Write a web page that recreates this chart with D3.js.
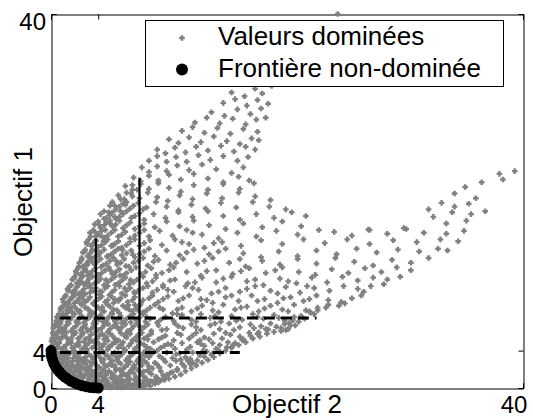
<!DOCTYPE html>
<html>
<head>
<meta charset="utf-8">
<script src="https://cdn.jsdelivr.net/npm/d3@7"></script>
<style>
  html, body { margin: 0; padding: 0; background: #fff; }
  svg { display: block; }
  text { font-family: "Liberation Sans", Arial, sans-serif; fill: #000; }
</style>
</head>
<body>
<div id="chart"></div>
<script>
// Objective space: dominated values and the non-dominated front
const xTicks = [0, 4, 40];
const yTicks = [0, 4, 40];
const xLabel = "Objectif 2";
const yLabel = "Objectif 1";
const legendLabels = ["Valeurs dominées", "Frontière non-dominée"];

// non-dominated front [objectif 2, objectif 1]
const frontier = [
  [0.00,4.00],[0.02,3.65],[0.06,3.30],[0.14,2.97],[0.24,2.63],[0.38,2.31],[0.54,2.00],
  [0.72,1.71],[0.94,1.43],[1.17,1.17],[1.43,0.94],[1.71,0.72],[2.00,0.54],[2.31,0.38],
  [2.63,0.24],[2.97,0.14],[3.30,0.06],[3.65,0.02],[4.00,0.00]
];

// cut levels: [level, extent]
const verticalCuts = [[3.8, 16], [7.5, 22.5]];
const horizontalCuts = [[3.8, 16], [7.5, 22.5]];
const cutStart = 0.75;

// dominated values [objectif 2, objectif 1]
const dominated = [
  [4.3,0.2],[4.8,0.5],[5.2,0.1],[5.6,0.7],[6.1,0.3],[6.4,0.8],[6.9,0.2],[7.3,0.6],[7.7,0.1],[8.2,0.4],[8.6,0.7],[3.6,0.8],[3.2,0.9],[4.1,0.7],[4.6,0.9],[5.0,0.3],[5.9,0.5],[6.6,0.5],[7.1,0.9],[7.9,0.8],[8.9,0.9],[9.3,0.8],[5.4,0.9],[4.5,0.1],[6.3,0.1],[7.5,0.3],[8.4,0.2],
  [1.6,1.8],[2.0,1.3],[2.4,1.7],[2.7,1.1],[3.1,1.5],[3.4,1.9],[3.8,1.2],[4.2,1.6],[4.5,1.1],[4.9,1.8],[5.3,1.4],[5.7,1.0],[6.0,1.7],[6.4,1.3],[6.8,1.9],[7.2,1.2],[7.6,1.6],[8.0,1.1],[8.5,1.5],[8.9,1.2],[9.3,1.8],[9.8,1.4],[10.3,1.7],[10.7,1.9],[2.2,1.95],[3.6,1.4],[5.1,1.1],[6.6,1.6],[8.2,1.9],[9.6,1.1],
  [0.8,2.6],[1.1,2.2],[1.4,2.8],[1.8,2.4],[2.2,2.9],[2.5,2.1],[2.9,2.6],[3.3,2.3],[3.7,2.8],[4.1,2.2],[4.4,2.7],[4.8,2.4],[5.2,2.9],[5.5,2.1],[5.9,2.6],[6.3,2.3],[6.7,2.8],[7.1,2.2],[7.5,2.6],[7.9,2.9],[8.3,2.3],[8.8,2.7],[9.2,2.2],[9.7,2.8],[10.1,2.4],[10.6,2.9],[11.1,2.6],[11.6,2.9],[12.0,2.7],[1.6,2.05],[3.0,2.95],[6.1,2.05],[9.0,2.5],
  [0.3,3.5],[0.6,3.1],[0.9,3.8],[1.2,3.3],[1.6,3.7],[1.9,3.2],[2.3,3.6],[2.7,3.1],[3.0,3.9],[3.4,3.4],[3.8,3.8],[4.2,3.2],[4.6,3.6],[5.0,3.1],[5.4,3.8],[5.8,3.4],[6.2,3.9],[6.5,3.2],[6.9,3.6],[7.4,3.1],[7.8,3.7],[8.3,3.3],[8.7,3.9],[9.2,3.4],[9.8,3.8],[10.3,3.2],[10.9,3.7],[11.4,3.3],[12.0,3.8],[12.6,3.5],[13.2,3.9],[13.7,3.7],[2.0,3.95],[5.6,3.05],[8.0,3.5],[11.0,3.05],
  [0.1,4.6],[0.4,4.2],[0.7,4.8],[1.1,4.4],[1.5,4.9],[1.8,4.3],[2.2,4.7],[2.6,4.1],[3.0,4.6],[3.5,4.3],[3.9,4.9],[4.3,4.4],[4.8,4.1],[5.2,4.7],[5.7,4.3],[6.1,4.9],[6.6,4.5],[7.1,4.2],[7.6,4.8],[8.1,4.4],[8.7,4.9],[9.3,4.3],[9.9,4.7],[10.5,4.2],[11.1,4.8],[11.8,4.4],[12.4,4.9],[13.0,4.5],[13.7,4.8],[14.3,4.6],[15.0,4.9],[15.6,4.8],[0.3,4.95],[2.8,4.95],[6.3,4.05],[9.6,4.5],
  [0.1,5.3],[0.4,5.8],[0.8,5.2],[1.1,5.6],[1.5,5.1],[1.9,5.7],[2.3,5.3],[2.7,5.9],[3.2,5.4],[3.6,5.0],[4.1,5.6],[4.5,5.2],[5.0,5.8],[5.4,5.3],[5.9,5.9],[6.4,5.4],[6.9,5.1],[7.4,5.7],[7.9,5.3],[8.5,5.8],[9.1,5.2],[9.7,5.6],[10.4,5.1],[11.0,5.7],[11.7,5.3],[12.3,5.9],[13.0,5.4],[13.8,5.8],[14.5,5.3],[15.2,5.7],[16.0,5.5],[16.8,5.9],[17.5,5.8],[1.3,5.95],[4.8,5.05],[8.2,5.55],[12.6,5.1],
  [0.2,6.4],[0.5,6.9],[0.9,6.3],[1.3,6.7],[1.7,6.1],[2.1,6.6],[2.5,6.2],[2.9,6.8],[3.4,6.3],[3.8,6.9],[4.3,6.4],[4.8,6.0],[5.3,6.6],[5.8,6.2],[6.3,6.8],[6.8,6.3],[7.3,6.9],[7.9,6.5],[8.5,6.1],[9.1,6.7],[9.8,6.3],[10.5,6.9],[11.2,6.4],[11.9,6.8],[12.7,6.2],[13.5,6.7],[14.3,6.3],[15.1,6.9],[16.0,6.5],[16.9,6.8],[17.8,6.6],[18.6,6.9],[19.5,6.4],[20.3,6.7],[19.9,6.2],[18.2,6.3],[0.7,6.05],[3.6,6.55],[6.0,6.95],
  [0.5,7.6],[0.8,7.1],[1.2,7.7],[1.6,7.3],[2.0,7.9],[2.4,7.4],[2.8,7.0],[3.3,7.6],[3.7,7.2],[4.2,7.8],[4.7,7.3],[5.2,7.9],[5.7,7.4],[6.2,7.0],[6.7,7.7],[7.2,7.3],[7.8,7.9],[8.4,7.4],[9.0,7.0],[9.7,7.6],[10.4,7.2],[11.1,7.8],[11.9,7.3],[12.7,7.9],[13.5,7.5],[14.4,7.1],[15.3,7.7],[16.2,7.3],[17.1,7.9],[18.0,7.4],[18.9,7.8],[19.8,7.2],[20.6,7.6],[21.5,7.4],[22.3,7.9],[20.2,6.95],[21.0,7.1],[1.0,7.95],[4.5,7.05],[8.1,7.6],
  [0.8,8.4],[1.2,8.9],[1.6,8.3],[2.0,8.7],[2.4,8.1],[2.9,8.6],[3.3,8.2],[3.8,8.8],[4.3,8.3],[4.8,8.9],[5.3,8.4],[5.8,8.0],[6.3,8.6],[6.9,8.2],[7.5,8.8],[8.1,8.3],[8.8,8.9],[9.5,8.4],[10.3,8.0],[11.1,8.6],[11.9,8.2],[12.8,8.8],[13.7,8.3],[14.6,8.9],[15.6,8.4],[16.6,8.7],[17.6,8.2],[18.6,8.8],[19.6,8.4],[20.6,8.9],[21.6,8.3],[22.6,8.6],[23.5,8.9],[24.4,8.8],[22.0,8.05],[1.4,8.05],[7.2,8.5],
  [1.0,9.5],[1.4,9.1],[1.8,9.7],[2.2,9.3],[2.7,9.9],[3.1,9.4],[3.6,9.0],[4.1,9.6],[4.6,9.2],[5.1,9.8],[5.7,9.3],[6.3,9.9],[6.9,9.4],[7.6,9.0],[8.3,9.6],[9.1,9.2],[9.9,9.8],[10.8,9.3],[11.7,9.9],[12.7,9.5],[13.7,9.1],[14.8,9.7],[15.9,9.3],[17.0,9.9],[18.1,9.5],[19.2,9.1],[20.3,9.7],[21.4,9.3],[22.5,9.9],[23.5,9.4],[24.6,9.2],[25.5,9.6],[26.3,9.9],[24.9,9.05],[2.5,9.05],[5.4,9.5],
  [1.4,10.6],[1.8,10.2],[2.2,10.8],[2.6,10.3],[3.1,10.9],[3.6,10.4],[4.1,10.0],[4.6,10.7],[5.2,10.3],[5.8,10.9],[6.4,10.4],[7.1,10.1],[7.8,10.7],[8.6,10.2],[9.5,10.8],[10.4,10.3],[11.4,10.9],[12.5,10.5],[13.6,10.1],[14.8,10.7],[16.0,10.3],[17.3,10.9],[18.6,10.4],[19.9,10.8],[21.1,10.2],[22.3,10.7],[23.6,10.4],[24.8,10.9],[26.0,10.6],[27.1,10.9],[26.5,10.3],[2.9,10.05],
  [1.8,11.6],[2.2,11.2],[2.6,11.8],[3.0,11.3],[3.5,11.9],[4.0,11.4],[4.5,11.0],[5.1,11.6],[5.7,11.2],[6.3,11.8],[7.0,11.3],[7.8,11.9],[8.6,11.4],[9.5,11.0],[10.5,11.6],[11.6,11.2],[12.8,11.8],[14.0,11.3],[15.3,11.9],[16.6,11.4],[18.0,11.0],[19.4,11.7],[20.8,11.2],[22.1,11.8],[23.4,11.3],[24.7,11.9],[26.0,11.5],[27.3,11.8],[28.5,11.6],[29.6,11.9],[28.2,11.1],[3.3,11.05],
  [2.1,12.5],[2.5,12.1],[2.9,12.7],[3.3,12.2],[3.8,12.8],[4.3,12.3],[4.9,12.9],[5.5,12.4],[6.1,12.0],[6.8,12.6],[7.6,12.2],[8.5,12.8],[9.4,12.3],[10.4,12.9],[11.5,12.4],[12.7,12.0],[14.0,12.6],[15.4,12.2],[16.8,12.8],[18.2,12.3],[19.6,12.9],[21.0,12.4],[22.4,12.1],[23.8,12.7],[25.2,12.3],[26.6,12.8],[28.0,12.4],[29.3,12.9],[30.5,12.6],[2.7,12.95],
  [2.4,13.4],[2.8,13.0],[3.2,13.6],[3.7,13.2],[4.2,13.8],[4.7,13.3],[5.3,13.9],[5.9,13.4],[6.6,13.0],[7.4,13.6],[8.2,13.1],[9.1,13.7],[10.1,13.2],[11.2,13.8],[12.4,13.3],[13.7,13.9],[15.1,13.4],[16.5,13.0],[17.9,13.6],[19.4,13.2],[20.9,13.8],[22.5,13.3],[24.1,13.9],[25.7,13.5],[27.3,13.1],[28.9,13.7],[30.5,13.4],[32.0,13.9],
  [2.7,14.5],[3.1,14.1],[3.5,14.7],[4.0,14.2],[4.5,14.8],[5.1,14.3],[5.7,14.9],[6.4,14.4],[7.1,14.0],[7.9,14.6],[8.8,14.1],[9.8,14.7],[10.9,14.2],[12.1,14.8],[13.4,14.3],[14.8,14.9],[16.3,14.4],[17.8,14.0],[19.3,14.6],[20.9,14.1],[22.5,14.7],[24.2,14.3],[25.9,14.9],[27.6,14.5],[29.4,14.8],[31.2,14.6],[32.8,14.9],[33.6,14.7],
  [3.0,15.6],[3.4,15.2],[3.8,15.8],[4.3,15.3],[4.8,15.9],[5.4,15.4],[6.0,15.0],[6.7,15.6],[7.5,15.2],[8.4,15.8],[9.4,15.3],[10.5,15.9],[11.7,15.4],[13.0,15.0],[14.5,15.6],[16.1,15.2],[17.8,15.8],[19.6,15.4],[21.4,15.9],[23.2,15.5],[25.1,15.9],[27.0,15.4],[29.0,15.8],[31.0,15.6],[33.0,15.9],[34.5,15.7],
  [3.3,16.6],[3.8,16.2],[4.3,16.8],[4.8,16.3],[5.4,16.9],[6.0,16.4],[6.7,16.0],[7.5,16.6],[8.3,16.2],[9.2,16.8],[10.3,16.3],[11.5,16.9],[12.8,16.4],[14.2,16.0],[15.8,16.6],[17.4,16.2],[19.1,16.8],[20.9,16.4],[22.7,16.9],[24.0,16.7],[25.5,16.3],[27.0,16.9],[28.5,16.5],[30.1,17.0],[31.6,16.6],[33.5,16.5],[35.0,16.8],
  [3.7,17.5],[4.2,17.1],[4.7,17.7],[5.2,17.3],[5.8,17.9],[6.4,17.4],[7.1,17.0],[7.9,17.6],[8.8,17.2],[9.8,17.8],[10.9,17.3],[12.1,17.9],[13.4,17.4],[14.8,17.0],[16.3,17.6],[17.9,17.2],[19.6,17.8],[21.2,17.3],[26.9,16.95],[29.9,17.1],[33.5,17.6],[35.2,17.9],
  [4.2,18.6],[4.7,18.2],[5.2,18.8],[5.8,18.3],[6.4,18.9],[7.1,18.4],[7.9,18.0],[8.7,18.6],[9.7,18.2],[10.8,18.8],[12.0,18.3],[13.3,18.9],[14.6,18.4],[16.0,18.0],[17.4,18.6],[18.9,18.2],[20.4,18.8],[21.6,18.4],[32.4,18.3],[34.0,18.8],[35.6,18.6],[36.8,18.9],
  [5.0,19.5],[5.5,19.1],[6.1,19.7],[6.7,19.2],[7.4,19.8],[8.1,19.3],[8.9,19.9],[9.8,19.4],[10.8,19.0],[11.9,19.6],[13.1,19.2],[14.4,19.8],[15.7,19.3],[17.1,19.9],[18.5,19.4],[19.9,19.1],[32.0,19.1],[33.1,19.8],[34.2,19.4],[35.4,19.7],
  [5.7,20.6],[6.2,20.2],[6.8,20.8],[7.5,20.3],[8.2,20.9],[9.0,20.4],[9.9,20.0],[10.9,20.6],[12.0,20.2],[13.2,20.8],[14.5,20.3],[15.9,20.9],[17.3,20.5],[18.6,20.1],[34.2,20.8],[36.0,20.3],
  [6.3,21.6],[6.9,21.2],[7.6,21.8],[8.3,21.3],[9.1,21.9],[10.0,21.4],[11.0,21.0],[12.1,21.7],[13.3,21.2],[14.6,21.8],[16.0,21.3],[17.2,21.9],[35.1,21.5],[36.5,22.0],[38.3,22.3],
  [7.0,22.5],[7.6,22.1],[8.3,22.7],[9.1,22.2],[10.0,22.8],[11.0,22.3],[12.1,22.9],[13.3,22.4],[14.6,22.0],[15.9,22.6],[16.8,22.2],[38.0,22.9],
  [7.7,23.6],[8.3,23.1],[9.0,23.7],[9.8,23.2],[10.7,23.8],[11.7,23.3],[12.8,23.9],[14.0,23.4],[15.3,23.0],[16.3,23.6],[39.3,23.2],
  [8.3,24.3],[9.0,24.8],[9.8,24.2],[10.6,24.7],[11.5,24.2],[12.5,24.9],[13.5,24.4],[14.6,24.8],[15.8,24.3],[16.7,24.7],
  [9.0,25.5],[9.7,25.1],[10.5,25.7],[11.4,25.2],[12.3,25.8],[13.3,25.4],[14.4,25.9],[15.5,25.3],[16.5,25.8],[17.3,25.5],
  [10.0,26.6],[10.8,26.2],[11.7,26.8],[12.7,26.3],[13.8,26.9],[14.9,26.4],[16.0,26.1],[17.0,26.7],[17.6,26.5],
  [11.1,27.5],[12.0,27.9],[13.0,27.3],[14.1,27.8],[15.2,27.2],[16.3,27.7],[17.5,27.4],
  [12.2,28.4],[13.2,28.9],[14.3,28.3],[15.4,28.8],[16.5,28.2],[17.4,28.7],[18.2,28.9],
  [13.6,29.5],[14.7,29.1],[15.8,29.8],[16.9,29.3],[17.8,29.9],
  [14.6,30.5],[15.6,30.9],[16.6,30.2],[17.5,30.8],[18.4,30.4],
  [15.3,31.6],[16.4,31.2],[17.3,32.0],[17.9,31.5],[18.7,32.3],
  [24.3,40.0],
  [4.0,0.4],[4.4,0.8],[4.9,0.2],[5.3,0.6],[5.8,0.2],[6.2,0.6],[6.7,0.9],[7.0,0.4],[7.4,0.8],[7.8,0.5],[8.1,0.9],[3.9,0.95],[5.5,0.4],[6.8,0.15],
  [1.9,1.6],[2.3,1.2],[2.6,1.5],[2.9,1.9],[3.3,1.2],[3.7,1.7],[4.0,1.3],[4.4,1.9],[4.7,1.4],[5.1,1.6],[5.5,1.9],[5.9,1.3],[6.2,1.5],[6.6,1.1],[7.0,1.6],[7.4,1.9],[7.8,1.3],[8.3,1.7],
  [1.0,2.9],[1.3,2.4],[1.7,2.7],[2.0,2.2],[2.4,2.5],[2.7,2.8],[3.1,2.2],[3.5,2.6],[3.9,2.4],[4.3,2.9],[4.6,2.3],[5.0,2.6],[5.4,2.4],[5.7,2.8],[6.5,2.5],[6.9,2.1],[7.3,2.9],[7.7,2.4],[8.1,2.7],[8.6,2.1],
  [0.4,3.8],[0.8,3.4],[1.0,3.1],[1.4,3.6],[1.8,3.9],[2.1,3.4],[2.5,3.8],[2.9,3.3],[3.2,3.6],[3.6,3.1],[4.0,3.6],[4.4,3.9],[4.8,3.4],[5.2,3.6],[6.0,3.6],[6.7,3.4],[7.2,3.9],[7.6,3.3],[8.5,3.6],
  [0.2,4.4],[0.5,4.7],[0.9,4.2],[1.3,4.6],[1.7,4.8],[2.0,4.4],[2.4,4.9],[2.8,4.3],[3.2,4.8],[3.7,4.5],[4.1,4.2],[4.5,4.7],[5.0,4.4],[5.5,4.9],[5.9,4.6],[6.8,4.8],[7.3,4.4],[7.9,4.6],[8.4,4.2],
  [0.2,5.6],[0.6,5.4],[0.9,5.9],[1.3,5.4],[1.7,5.3],[2.1,5.9],[2.5,5.5],[2.9,5.2],[3.4,5.7],[3.9,5.3],[4.3,5.8],[4.7,5.4],[5.2,5.6],[5.7,5.1],[6.2,5.6],[6.7,5.8],[7.2,5.4],[7.7,5.9],[8.2,5.2],
  [0.3,6.7],[0.7,6.5],[1.1,6.2],[1.5,6.9],[1.9,6.4],[2.3,6.9],[2.7,6.5],[3.1,6.1],[3.6,6.9],[4.0,6.2],[4.5,6.7],[5.0,6.3],[5.5,6.9],[6.0,6.5],[6.5,6.1],[7.0,6.6],[7.6,6.2],[8.2,6.8],
  [0.7,7.3],[1.0,7.5],[1.4,7.1],[1.8,7.6],[2.2,7.2],[2.6,7.7],[3.0,7.3],[3.5,7.9],[3.9,7.5],[4.4,7.1],[4.9,7.6],[5.4,7.2],[5.9,7.7],[6.4,7.4],[7.0,7.9],[7.5,7.5],[8.0,7.1],
  [1.0,8.7],[1.4,8.5],[1.8,8.1],[2.2,8.4],[2.6,8.9],[3.1,8.5],[3.5,8.1],[4.0,8.6],[4.5,8.2],[5.0,8.7],[5.6,8.3],[6.1,8.8],[6.6,8.4],[7.1,8.9],[7.8,8.1],[8.4,8.6],
  [1.2,9.8],[1.6,9.4],[2.0,9.1],[2.4,9.6],[2.9,9.2],[3.3,9.7],[3.8,9.3],[4.3,9.8],[4.8,9.4],[5.3,9.1],[5.9,9.6],[6.5,9.2],[7.1,9.7],[7.8,9.4],[8.6,9.9],
  [1.6,10.9],[2.0,10.5],[2.4,10.1],[2.8,10.6],[3.3,10.2],[3.8,10.7],[4.3,10.3],[4.8,10.9],[5.4,10.5],[6.0,10.1],[6.7,10.7],[7.4,10.4],[8.2,10.9],[9.0,10.5],
  [2.0,11.9],[2.4,11.5],[2.8,11.1],[3.2,11.6],[3.7,11.2],[4.2,11.7],[4.8,11.3],[5.4,11.9],[6.0,11.5],[6.6,11.1],[7.3,11.6],[8.1,11.2],[8.9,11.8],
  [2.3,12.8],[2.7,12.4],[3.1,12.0],[3.5,12.5],[4.0,12.1],[4.6,12.6],[5.2,12.2],[5.8,12.7],[6.4,12.3],[7.2,12.9],[8.0,12.4],[8.9,12.1],
  [2.6,13.7],[3.0,13.3],[3.4,13.9],[3.9,13.5],[4.4,13.1],[5.0,13.6],[5.6,13.2],[6.2,13.8],[7.0,13.4],[7.8,13.9],[8.7,13.5],
  [2.9,14.8],[3.3,14.4],[3.7,14.0],[4.2,14.5],[4.8,14.1],[5.4,14.6],[6.0,14.2],[6.8,14.7],[7.5,14.3],[8.3,14.9],
  [3.2,15.9],[3.6,15.5],[4.0,15.1],[4.6,15.6],[5.1,15.2],[5.7,15.7],[6.4,15.3],[7.1,15.9],[7.9,15.5],
  [3.6,16.9],[4.0,16.5],[4.5,16.1],[5.1,16.6],[5.7,16.2],[6.3,16.7],[7.1,16.3],[7.9,16.9],
  [4.0,17.8],[4.5,17.4],[5.0,17.9],[5.5,17.5],[6.1,17.1],[6.7,17.7],[7.5,17.3],
  [4.5,18.9],[5.0,18.5],[5.5,18.1],[6.1,18.6],[6.8,18.2],[7.5,18.7],
  [5.2,19.9],[5.8,19.4],[6.4,19.9],[7.0,19.5],[7.8,19.1],
  [9.5,3.1],[10.6,3.6],[11.8,3.1],[12.9,4.0],[9.0,4.0],[10.2,4.6],[11.5,4.1],[12.7,4.7],[14.0,4.2],[15.3,4.4],
  [9.4,5.4],[10.7,5.9],[12.0,5.6],[13.4,5.2],[14.8,5.9],[16.3,5.2],[9.4,6.2],[10.8,6.6],[12.3,6.5],[13.9,6.9],[15.5,6.2],[17.2,6.4],
  [9.3,7.3],[10.7,7.9],[12.3,7.1],[13.9,7.7],[15.7,7.2],[17.5,7.6],[19.3,7.5],[9.2,8.6],[10.7,8.4],[12.4,8.5],[14.2,8.1],[16.1,8.6],[18.1,8.5],[20.1,8.2],
  [9.5,9.5],[11.2,9.6],[13.2,9.4],[15.3,9.9],[17.5,9.3],[19.7,9.6],[21.9,9.5],[9.9,10.5],[12.0,10.7],[14.2,10.3],[16.6,10.6],[19.2,10.1],[21.7,10.9],
  [10.1,11.5],[12.2,11.3],[14.6,11.7],[17.3,11.6],[20.1,11.4],[10.0,12.6],[13.2,12.5],[16.1,12.5],[19.0,12.6],[10.6,13.4],[13.0,13.6],[16.0,13.8],
  [11.5,14.5],[14.2,14.6],[11.1,15.6],[13.8,15.5],[12.0,16.6],
  // hugging the front
  [0.3,4.2],[0.15,3.9],[0.35,3.5],[0.5,3.0],[0.7,2.6],[0.9,2.2],[1.2,1.9],[1.5,1.5],[1.9,1.2],[2.3,0.9],[2.7,0.7],[3.1,0.5],[3.5,0.35],[3.9,0.2],
  [0.6,3.7],[0.8,3.3],[1.0,2.75],[1.3,2.45],[1.6,2.15],[2.0,1.75],[2.4,1.45],[2.8,1.25],[3.2,0.95],[3.6,0.7],[4.2,0.55],[4.6,0.35],
  [1.15,3.55],[1.45,3.15],[1.85,2.85],[2.25,2.5],[2.65,2.2],[3.05,1.8],[3.45,1.6],[3.85,1.45],[4.35,1.2],[4.75,0.75],
  // upper-left edge of the cloud
  [0.05,5.0],[0.15,5.9],[0.3,6.6],[0.45,7.2],[0.65,7.9],[0.85,8.6],[1.05,9.2],[1.25,9.9],[1.45,10.4],[1.7,11.0],[1.95,11.7],[2.15,12.3],[2.35,13.0],[2.6,13.9],[2.85,14.6],[3.05,15.4],[3.35,16.2],[3.7,16.7],[4.1,17.4],[4.5,18.1],[4.9,18.8],[5.4,19.5],[5.9,20.2],[6.4,20.9],[6.9,21.7],
  [0.4,5.3],[0.6,6.1],[0.8,6.9],[1.0,7.8],[1.3,8.3],[1.5,9.0],[1.7,9.6],[2.0,10.3],[2.3,11.0],[2.5,11.4],[2.7,12.0],[2.9,12.6],[3.1,13.2],[3.3,14.0],[3.5,14.8],[3.8,15.7],[4.2,16.3],[4.6,16.9],[5.0,17.6],[5.4,18.3],[5.9,18.9],[6.3,19.6],[6.9,20.5],[7.3,21.2],
  // lower edge of the cloud
  [4.4,0.05],[5.0,0.05],[5.6,0.1],[6.0,0.05],[6.5,0.25],[7.2,0.15],[7.6,0.35],[8.0,0.25],[8.8,0.45],[9.1,0.6],[9.6,0.85],[10.0,1.0],[10.5,1.2],[11.0,1.45],[11.4,1.8],[11.9,2.1],[12.3,2.4],[12.8,2.7],[13.3,3.0],[13.8,3.3],[14.3,3.7],[14.8,4.0],[15.3,4.3],[15.9,4.6],[16.5,4.9],[17.1,5.3],[17.7,5.5],[18.3,5.8],[18.9,6.0],[19.5,6.1],[20.1,6.3],[20.7,6.7],
  [8.4,0.75],[9.0,1.05],[9.5,1.35],[10.1,1.6],[10.7,2.05],[11.3,2.3],[11.8,2.55],[12.4,2.95],[13.0,3.35],[13.6,3.55],[14.2,4.05],[14.9,4.35],[15.5,4.65],[16.2,5.15],[16.9,5.6],[17.6,5.95],[18.4,6.25],[19.1,6.55],[19.8,6.85],[20.5,7.25],[21.2,7.7],[21.9,8.2],[22.6,8.3],[23.3,8.6],
  // inner core
  [0.55,4.35],[1.25,4.05],[1.95,3.75],[2.45,3.15],[3.35,2.75],[3.95,2.05],[4.65,1.65],[5.35,1.25],[6.05,0.85],[0.95,5.45],[1.65,5.05],[2.35,4.55],[3.05,4.15],[3.75,3.45],[4.45,3.05],[5.15,2.45],[5.85,1.95],[6.55,1.45],[7.25,0.95],
  [1.15,6.45],[1.85,6.05],[2.65,5.75],[3.35,5.05],[4.05,4.75],[4.85,4.35],[5.55,3.35],[6.35,2.95],[7.05,2.45],[7.85,1.75],[1.45,7.45],[2.15,7.05],[2.95,6.45],[3.75,5.95],[4.55,5.55],[5.35,4.85],[6.15,4.25],[6.95,3.75],[7.75,2.95],
  [1.75,8.65],[2.45,8.25],[3.25,7.85],[4.05,7.35],[4.85,6.85],[5.65,6.45],[6.45,5.85],[7.25,5.05],[8.05,4.05],[2.05,9.95],[2.75,9.45],[3.55,9.05],[4.35,8.65],[5.15,8.05],[5.95,7.45],[6.75,7.05],[7.55,6.55],
  [2.55,11.35],[3.35,10.75],[4.15,10.35],[4.95,9.95],[5.75,9.45],[6.55,8.85],[7.35,8.35],[3.05,12.45],[3.85,11.95],[4.65,11.55],[5.45,11.05],[6.25,10.65],[7.05,10.25],
  [3.45,13.55],[4.25,12.95],[5.05,12.55],[5.85,12.05],[6.75,11.55],[3.95,14.65],[4.75,14.05],[5.55,13.55],[6.35,13.05],[4.45,15.75],[5.25,15.25],[6.05,14.75],[6.95,14.25]
];

const W = 533, H = 420;
const x = d3.scaleLinear().domain([0, 40]).range([51, 523]);
const y = d3.scaleLinear().domain([0, 40]).range([388, 14]);

const svg = d3.select("#chart").append("svg")
  .attr("width", W).attr("height", H)
  .attr("viewBox", `0 0 ${W} ${H}`);

svg.append("rect").attr("width", W).attr("height", H).attr("fill", "#fff");

// small plus-shaped marker used for dominated values
const dotPath = "M-1.2,-2.8h2.4v1.6h1.6v2.4h-1.6v1.6h-2.4v-1.6h-1.6v-2.4h1.6Z";
const grey = "#808080";

// axes box with inward ticks on all four sides
const axisG = svg.append("g");
const xb = d3.axisBottom(x).tickValues(xTicks).tickSize(-5).tickFormat("");
const xt = d3.axisTop(x).tickValues(xTicks).tickSize(-5).tickFormat("");
const yl = d3.axisLeft(y).tickValues(yTicks).tickSize(-5).tickFormat("");
const yr = d3.axisRight(y).tickValues(yTicks).tickSize(-5).tickFormat("");
axisG.append("g").attr("transform", "translate(0,388.5)").call(xb);
axisG.append("g").attr("transform", "translate(0,14.5)").call(xt);
axisG.append("g").attr("transform", "translate(51.5,0)").call(yl);
axisG.append("g").attr("transform", "translate(523.5,0)").call(yr);
axisG.selectAll(".domain").attr("stroke", "#000").attr("stroke-width", 1);
axisG.selectAll(".tick line").attr("stroke", "#000").attr("stroke-width", 1);

// dominated values
svg.append("g").selectAll("path")
  .data(dominated)
  .join("path")
  .attr("d", dotPath)
  .attr("transform", d => `translate(${x(d[0])},${y(d[1])})`)
  .attr("fill", grey);

// cut lines
svg.append("g").selectAll("line")
  .data(verticalCuts)
  .join("line")
  .attr("x1", d => x(d[0])).attr("x2", d => x(d[0]))
  .attr("y1", y(0)).attr("y2", d => y(d[1]))
  .attr("stroke", "#000").attr("stroke-width", 2.2);

svg.append("g").selectAll("line")
  .data(horizontalCuts)
  .join("line")
  .attr("x1", x(cutStart)).attr("x2", d => x(d[1]))
  .attr("y1", d => y(d[0])).attr("y2", d => y(d[0]))
  .attr("stroke", "#000").attr("stroke-width", 3)
  .attr("stroke-dasharray", "11,6");

// non-dominated front
svg.append("g").selectAll("circle")
  .data(frontier)
  .join("circle")
  .attr("cx", d => x(d[0])).attr("cy", d => y(d[1]))
  .attr("r", 5.5).attr("fill", "#000");

// tick labels
const tickFont = 24;
const xLab = svg.append("g").attr("font-size", tickFont).attr("text-anchor", "middle");
xLab.selectAll("text").data(xTicks).join("text")
  .attr("x", d => d === 40 ? x(d) - 9 : x(d))
  .attr("y", 413)
  .text(d => d);

const yLab = svg.append("g").attr("font-size", tickFont).attr("text-anchor", "end");
yLab.selectAll("text").data(yTicks).join("text")
  .attr("x", 46)
  .attr("y", d => d === 40 ? y(d) + 16 : y(d) + 10)
  .text(d => d);

// axis titles
svg.append("text")
  .attr("x", 287).attr("y", 413)
  .attr("text-anchor", "middle").attr("font-size", 26)
  .text(xLabel);

svg.append("text")
  .attr("transform", "translate(32,202) rotate(-90)")
  .attr("text-anchor", "middle").attr("font-size", 26)
  .text(yLabel);

// legend
const lg = svg.append("g");
lg.append("rect")
  .attr("x", 145.5).attr("y", 20.5).attr("width", 358).attr("height", 66)
  .attr("fill", "#fff").attr("stroke", "#000").attr("stroke-width", 1);
lg.append("path").attr("d", dotPath).attr("transform", "translate(182,38)").attr("fill", grey);
lg.append("circle").attr("cx", 182).attr("cy", 69.5).attr("r", 6).attr("fill", "#000");
lg.selectAll("text.lab").data(legendLabels).join("text")
  .attr("class", "lab")
  .attr("x", 218).attr("y", (d, i) => 45 + i * 32)
  .attr("font-size", 26)
  .text(d => d);
</script>
</body>
</html>
